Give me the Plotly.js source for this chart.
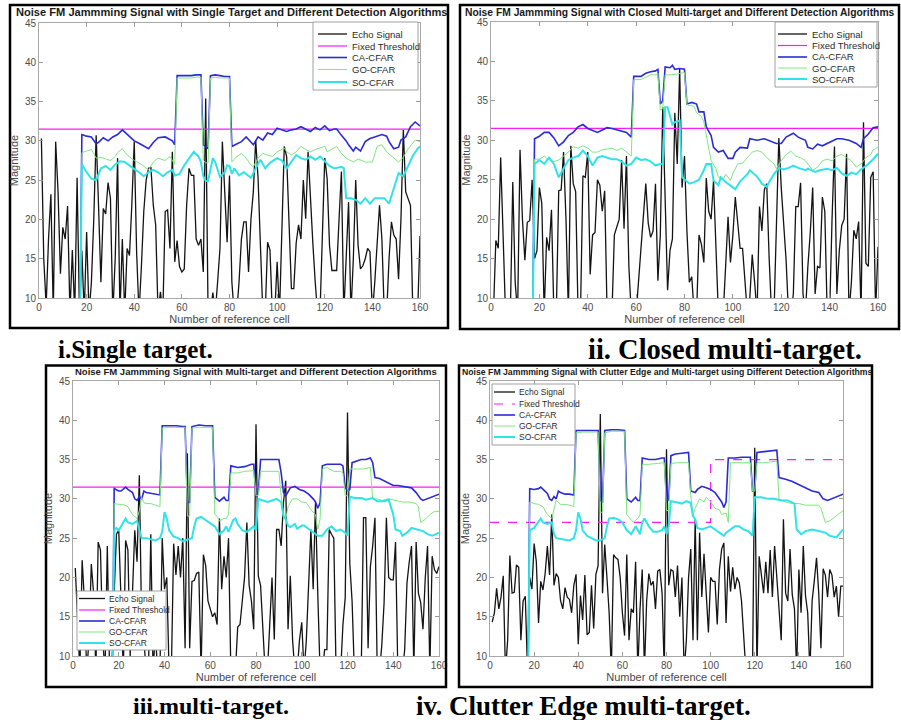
<!DOCTYPE html>
<html><head><meta charset="utf-8">
<script src="https://cdn.plot.ly/plotly-3.0.1.min.js"></script>
<style>html,body{margin:0;padding:0;background:#fff}#chart{width:901px;height:720px}</style>
</head><body><div id="chart"></div>
<script>
// ---------- DATA ----------
const xTicks = [0,20,40,60,80,100,120,140,160];
const yTicks = [10,15,20,25,30,35,40,45];
const seriesNames = ['Echo Signal','Fixed Threshold','CA-CFAR','GO-CFAR','SO-CFAR'];
const panelTitles = [
 'Noise FM Jammming Signal with Single Target and Different Detection Algorithms',
 'Noise FM Jammming Signal with Closed Multi-target and Different Detection Algorithms',
 'Noise FM Jammming Signal with Multi-target and Different Detection Algorithms',
 'Noise FM Jammming Signal with Clutter Edge and Multi-target using Different Detection Algorithms'];
const captions = ['i.Single target.','ii. Closed multi-target.','iii.multi-target.','iv. Clutter Edge multi-target.'];
const xTitle = 'Number of reference cell';
const yTitle = 'Magnitude';

// Echo signal, cells 1..160
const echo1 = [30.3,15,9,17.5,23.2,8,29.9,23.5,13.1,19, 17.5,21.7,8,16.1,8,25.3,8,16,8,18.4,
 8,12,20,30.7,21.8,12,21.4,20.7,24.7,22.7, 8,15,27.8,8,17.5,8,16.3,15.4,22,29.9,
 15.8,8,14,21,25,26.5,26.6,21.8,19.3,8, 10.8,8,21,21.2,16.3,28.6,14.6,17.3,14,13.3,
 13.7,21.8,26.5,25.6,25.6,17.5,16.7,17.5,13.3,35.4, 8,8,10.7,8,12,16.3,29.9,23.9,17.1,25.6,
 12,8,8,12,17.5,19.7,19.7,13.3,20,23.5, 30.1,25.2,17,8,8,17.1,16.1,8,8,14.6,
 8,18,29.3,28,20,11.2,11.2,17,19.3,17.5, 25,20.1,28.6,21.8,17,12,8,8,18,27.8,
 25.2,16.7,13.5,13.5,13.5,20,26.1,8,15,22.2, 8,15,25,16.7,13.7,14.1,15,16.3,15.9,8,
 12,17,21.8,17.5,8,8,15,19.7,18,17.5, 12.4,20,31.4,23.5,22.5,21.8,8,8,8,17.9];
const echo2 = [8,17.3,16.3,27.8,18,8,8,8,24.7,12, 8,28.8,20,14.8,19.6,19.8,25,15,16,24,
 22,8,17.7,16,21.2,8,8,23.6,23.7,28.5, 20,8,29.3,24.5,23.5,8,8,25.5,25.3,28.5,
 13,18,18.3,25,24.3,21,23.6,8,8,8, 18,19,20,27.5,18.8,28,14,8,10,8,
 12,16,20,24.5,19.5,17.7,18.5,24.5,12.2,18, 34.2,22,11,16,17.5,33.5,27,39.1,24,28,
 18.5,12,12.7,8,8,18,16.8,14.5,25.2,21, 20,24.9,18,8,8,8,14,20.3,14.5,18,
 22.8,19,16.3,16.3,12,8,10,15.5,12,8, 21.6,18.5,23.7,24.5,15,8,8,18,30.3,24,
 20,14.8,8,8,10.5,21.6,21.6,24.6,10.5,8, 14,18.3,24,10.5,14,13.8,22.8,21,8,8,
 20,29.2,10.5,16,19.2,20,28.3,8,12,18.6, 17.5,19.7,8,32.3,14.4,14,25.3,26,8,16.5];
const echo3 = [21.2,14,8,22.2,17,8,12,21.7,18,8, 24.5,23.5,12,8,24,8,8,18,25.5,26,
 15,8,24.7,23.5,10,19,26,22,33,14, 12,8,8,25.5,8,13,8,8,25,18.5,
 20,8,8,24.3,20.3,24,20,25,11,35.8, 11,19.5,19.6,20.5,20.7,8,22.9,21.5,17,16,
 15,15.5,14,27.5,18.5,22.7,20,25,8,8, 8,13.7,14,17,20,27,19,17,13.4,39.5,
 20.2,19,14,8,8,14,20,12.1,26.1,26.1, 24,29.5,32.3,13.4,20.2,12,8,8,12,14.3,
 8,12,19,26.1,18.5,29.5,18,8,8,10.8, 10.8,26.1,25.5,25,8,8,8,14,17.4,41,
 21.8,17,8,8,8,8,27.6,27.6,11,21.4, 24,27.6,8,8,11.4,16.8,27.6,20,19.7,19.7,
 24.5,8,8,8,10.8,19.3,22,24,8,24.5, 18,16.8,13.4,20,24,8,22.7,21,20.5,21.4];
const echo4 = [14.3,15.5,18.6,16,17.5,20.2,8,12,22.8,18, 18.1,21.6,21.3,12,17,17.6,8,20,18.5,24.3,
 22,14.2,19.5,18.4,20.5,24,20.3,28,19,20.5, 20,17,16,18.7,17.5,17.2,15.5,19,20.4,11.5,
 17.7,14.6,20.3,12.7,13,19,13.5,20.4,21.5,40.8, 18,24.2,20,15.5,8,22.9,22.5,22.3,20,15.5,
 12.6,22.9,12,16,15.5,22,8,16,21,8, 17,20.5,19,19.5,16,20.8,21,18,8,36.3,
 19,21,20.8,17.5,21.5,15,20,8,12,20, 23.6,12,27.4,12,25.7,17.5,23,17.5,13,20,
 19.5,19.5,14,21,23.6,24.4,14.2,22.7,18.2,21.3, 18.5,20,19.3,17,13,8,8,8,8,36.5,
 8,22.7,20.5,18,22,18,23.5,17.5,24,20, 16,12,27.4,18,17,23.6,17.8,16,8,21,
 15.5,24,17.7,15.5,8,17,19.6,22.5,18,11, 21.1,20.3,17.5,21,20.3,17.5,18.9,15,18.9,18.9];

// Fixed thresholds
const thrX = [0,160];          const thrY = [31.5,31.5];
const thrX4 = [0,100,100,160]; const thrY4 = [27,27,35,35];

// Panel i CFAR
const caX1=[17,18,20,22,24,25,27,29,31,33,35,37,40,42,44,46,48,50,53,56,57,58,60,62,64,66,68,69,70,71,72,74,76,78,80,81,83,85,87,89,90,92,94,96,98,100,102,104,106,108,110,112,114,116,118,120,122,124,125,127,129,130,132,133,135,137,139,141,144,146,147,149,151,152,154,156,158,160];
const caY1=[0,30.8,30.6,30.5,29.6,29.8,30.4,30.0,30.5,30.8,31.4,30.8,30.0,29.7,29.4,29.0,29.8,30.4,30.5,30.0,29.5,38.3,38.3,38.3,38.3,38.4,38.4,29.5,29.2,29.0,38.3,38.4,38.3,38.2,38.2,29.3,29.6,29.9,30.5,29.8,29.5,30.5,30.1,31.0,30.8,31.6,31.4,31.2,31.4,31.5,31.8,31.5,31.2,31.7,31.4,31.9,31.3,31.5,31.5,30.7,30.0,29.5,28.7,29.2,28.7,29.9,30.3,30.5,30.8,30.6,29.9,29.0,29.2,30.1,30.5,31.8,32.4,31.9];
const goX1=[17,18,20,22,24,26,28,30,32,33,35,37,40,43,46,48,50,53,55,57,58,60,62,64,66,68,69,70,71,72,74,76,78,80,81,83,85,87,89,90,92,94,96,98,100,103,104,106,108,110,112,114,116,118,120,121,123,125,127,129,132,134,137,140,142,144,146,149,151,153,155,158,160];
const goY1=[0,28.5,28.7,28.9,27.8,27.9,27.7,27.5,28.0,28.5,29.0,28.2,27.5,27.0,26.3,27.3,27.8,27.5,28.0,27.0,38.0,38.0,38.0,38.0,38.1,38.1,27.5,27.2,27.2,38.0,38.1,38.0,38.0,38.0,27.3,28.0,28.4,27.8,26.9,26.7,27.8,28.4,28.2,28.0,28.6,29.1,28.6,28.2,28.6,29.3,28.9,28.6,28.9,29.1,29.3,28.6,28.9,29.3,28.4,27.8,27.3,27.7,27.3,27.3,29.3,29.5,28.6,27.8,27.3,27.9,29.0,30.1,29.9];
const soX1=[17,18,20,22,24,26,28,30,32,34,36,38,40,42,44,46,48,50,52,54,56,57,59,61,63,65,67,68,69,70,71,72,73,74,76,78,79,80,81,82,84,86,88,89,91,93,95,97,100,102,104,106,108,110,112,114,116,118,120,122,124,127,128,129,131,133,135,137,139,141,143,145,147,149,151,153,155,157,159,160];
const soY1=[0,27.0,26.0,25.2,25.0,26.5,26.8,26.3,27.0,27.4,27.3,26.8,26.4,26.0,25.5,26.0,26.3,26.0,25.5,26.0,26.3,25.6,25.8,26.9,27.8,28.6,28.0,27.3,25.5,24.9,24.9,26.5,27.8,27.3,25.4,26.0,26.9,26.8,25.8,26.5,25.6,26.0,25.5,25.3,26.5,27.6,26.5,27.2,27.8,27.5,26.5,27.3,28.2,27.8,27.6,28.0,27.6,28.0,27.4,26.8,26.5,26.7,26.5,22.7,22.7,22.5,22.0,22.7,22.0,22.7,22.7,22.7,22.0,24.1,25.9,25.5,26.8,28.1,29.0,29.3];

// Panel ii CFAR
const caX2=[17,18,20,22,24,26,28,30,32,34,36,38,40,42,44,46,48,50,52,54,56,58,59,62,64,66,68,69,70,71,72,74,75,76,78,80,81,83,85,86,88,89,91,92,94,96,98,100,101,103,106,107,110,113,116,118,120,122,125,127,130,131,133,135,137,140,143,145,148,151,153,154,156,158,160];
const caY2=[0,30.2,30.5,31.0,31.0,30.3,29.3,29.8,30.6,31.0,31.7,32.0,31.5,31.2,31.0,31.3,31.6,31.5,31.3,31.2,31.0,30.4,38.1,38.1,38.5,38.7,38.8,39.0,34.6,35.0,39.3,39.2,39.5,39.0,39.1,39.0,34.6,34.8,34.6,33.6,33.6,31.7,30.6,29.1,28.5,28.7,27.7,27.7,28.5,29.1,29.0,30.2,30.0,30.2,29.8,29.6,29.6,30.4,30.9,30.4,30.0,29.1,28.9,29.5,29.3,29.8,30.2,30.2,30.0,29.6,29.1,30.2,30.8,31.6,31.7];
const goX2=[17,18,20,22,24,26,28,30,32,34,36,38,40,42,44,46,48,50,52,54,56,58,59,62,64,66,68,69,70,71,72,74,77,80,81,84,85,87,88,89,90,91,93,94,96,97,99,100,102,104,106,108,110,112,114,117,118,120,122,124,126,128,130,133,135,137,139,141,143,145,147,149,151,153,155,157,158,160];
const goY2=[0,27.6,27.6,28.0,27.5,27.3,27.5,28.0,28.5,29.2,29.0,29.3,29.0,28.5,28.5,28.8,28.9,29.0,28.7,29.0,28.5,28.0,37.7,37.7,38.0,38.3,38.3,38.5,33.8,34.0,38.3,38.3,38.4,38.6,34.5,34.3,33.5,33.0,32.3,30.4,29.0,27.4,26.4,25.3,25.0,25.7,24.9,25.8,27.0,27.1,27.8,28.5,28.7,28.5,27.8,27.0,26.4,27.4,28.2,28.6,28.0,27.8,27.4,26.2,26.6,27.4,27.6,27.4,28.0,28.2,27.8,27.4,26.6,27.0,27.8,28.2,28.8,29.1];
const soX2=[17,18,20,22,24,26,28,30,32,34,36,38,40,42,44,46,48,50,52,54,56,58,60,62,64,66,68,70,71,72,73,74,75,76,78,79,81,82,84,86,88,89,91,92,94,95,97,99,101,103,106,107,110,112,114,115,117,119,121,123,125,127,130,131,134,136,139,141,143,145,147,149,151,153,156,158,160];
const soY2=[0,27.0,27.5,27.0,27.8,27.0,25.3,26.5,27.5,27.8,28.0,28.7,28.0,26.8,27.8,28.0,27.8,27.6,27.6,27.3,26.8,27.0,27.8,27.5,27.6,27.3,26.8,27.0,27.0,34.2,34.2,33.0,32.0,32.3,32.5,25.3,24.8,24.5,24.7,25.0,26.2,27.0,27.0,24.9,24.3,25.3,24.7,24.3,23.8,24.8,25.7,26.2,25.4,24.5,24.1,24.7,25.7,26.5,26.3,26.5,26.8,26.5,26.2,26.4,26.0,26.2,26.4,26.2,26.5,25.8,25.5,25.9,25.7,26.3,27.0,27.6,28.3];

// Panel iii CFAR
const caX3=[17,18,20,21,23,24,26,27,28,29,30,31,32,34,36,38,39,42,45,48,49,50,51,52,55,58,61,62,64,66,67,68,69,72,75,78,79,80,81,82,84,86,88,90,91,92,93,95,97,99,101,103,105,106,107,108,109,111,113,115,117,118,119,120,121,122,124,126,128,130,131,132,134,136,138,140,142,144,146,148,150,152,153,155,157,160];
const caY3=[0,31.3,31.0,31.0,31.5,31.2,30.8,30.0,29.8,30.3,30.0,31.0,30.8,30.7,30.6,30.5,39.3,39.3,39.3,39.2,39.2,29.7,29.5,39.2,39.4,39.3,39.3,30.2,29.7,30.2,29.8,29.8,34.2,34.0,34.1,34.4,34.4,30.3,30.8,35.0,35.0,35.0,35.0,35.0,33.3,30.8,30.4,31.4,31.6,31.2,31.0,30.6,30.0,29.6,28.8,29.5,34.2,34.4,34.4,34.4,34.4,34.2,31.5,31.0,31.2,34.6,34.8,35.0,35.0,35.2,34.6,32.7,32.6,32.3,32.0,31.7,31.7,31.6,31.5,31.4,30.8,30.0,29.8,30.0,30.3,30.6];
const goX3=[17,18,20,22,24,26,28,29,30,31,32,34,36,38,39,42,45,49,50,51,52,55,58,61,62,63,64,66,67,68,69,72,75,78,79,80,81,82,85,88,90,91,92,93,94,96,98,100,102,104,106,107,108,109,111,114,117,118,119,120,121,124,127,130,131,133,135,138,141,144,147,150,151,152,154,156,158,160];
const goY3=[0,29.4,29.3,29.3,29.0,28.0,27.5,28.5,30.2,29.5,29.4,29.4,29.2,29.0,39.0,39.1,39.1,39.1,27.8,27.8,39.0,39.1,39.1,39.1,28.0,27.8,27.2,27.5,27.5,28.0,33.3,33.3,33.5,33.6,33.6,30.4,30.4,33.5,33.5,33.5,33.5,30.4,28.0,27.4,29.0,30.0,30.0,29.6,29.5,28.6,28.0,26.1,27.4,33.8,34.0,33.5,33.5,33.3,30.4,30.4,33.8,33.8,33.8,34.0,30.0,30.0,29.8,30.0,29.8,29.6,29.6,29.4,29.0,27.0,27.4,28.0,28.4,28.4];
const soX3=[17,18,19,20,22,23,24,26,28,29,30,32,34,36,38,39,40,41,42,44,46,48,50,52,53,54,56,58,60,62,64,66,67,68,70,71,72,74,76,78,79,80,81,83,85,87,89,91,92,93,94,95,97,98,100,101,103,104,106,107,109,111,113,115,117,119,120,121,123,126,128,131,133,136,138,140,141,143,144,146,148,150,153,155,157,160];
const soY3=[0,26.0,26.3,26.0,27.0,27.5,27.0,26.8,27.2,26.0,25.0,25.0,24.8,24.7,25.0,25.8,28.3,27.5,26.0,25.2,25.0,24.6,24.8,25.0,26.5,27.5,27.7,27.3,27.0,26.5,25.5,26.0,26.5,25.8,27.3,27.5,26.8,26.0,25.8,26.2,26.5,26.0,30.0,29.8,29.6,29.8,30.0,29.6,27.8,27.4,26.6,26.4,26.8,26.2,26.6,26.6,26.2,26.0,25.5,25.3,25.3,26.1,26.5,25.9,26.1,25.7,25.3,30.3,30.1,30.1,29.9,30.1,29.7,29.7,29.9,28.0,26.1,25.9,25.3,25.7,26.3,26.1,25.9,25.5,25.3,25.7];

// Panel iv CFAR
const caX4=[17,18,20,22,23,24,26,27,28,29,30,31,32,34,36,38,39,42,45,49,50,51,52,55,58,61,62,64,66,67,68,69,72,75,78,79,80,81,82,84,87,90,91,93,94,96,98,100,102,104,105,106,107,108,111,114,116,118,119,120,121,124,127,130,131,134,137,140,143,146,149,151,153,155,158,160];
const caY4=[0,31.3,31.2,31.3,31.5,31.2,30.7,30.0,29.8,30.3,30.0,31.0,30.8,30.6,30.6,30.5,38.7,38.7,38.7,38.7,29.8,29.5,38.7,38.8,38.8,38.7,30.0,29.6,30.2,29.8,29.8,35.2,35.0,35.0,35.2,35.2,30.0,29.8,35.5,35.7,35.8,35.9,31.0,30.8,31.2,31.6,31.4,31.2,30.8,30.0,29.6,28.9,29.6,35.2,35.2,35.3,35.3,35.3,31.0,31.0,35.9,36.0,36.1,36.2,32.7,32.5,32.2,31.8,31.4,31.0,30.8,30.0,29.8,30.0,30.4,30.6];
const goX4=[17,18,20,22,24,26,28,29,30,32,34,36,38,39,42,45,49,50,51,52,55,58,61,62,64,65,66,67,68,69,72,75,78,79,80,81,82,85,88,90,91,92,93,95,97,98,100,102,104,105,107,108,109,112,115,118,119,120,121,124,127,130,131,134,137,140,143,146,149,150,152,154,157,160];
const goY4=[0,29.6,29.4,29.3,29.0,28.0,27.5,28.5,29.8,29.3,29.3,29.2,29.0,38.4,38.5,38.5,38.5,28.3,28.3,38.4,38.6,38.6,38.6,28.0,27.3,27.0,27.3,27.5,28.0,34.4,34.4,34.5,34.6,34.6,28.5,28.5,34.5,34.6,34.6,34.6,30.5,27.8,28.8,30.0,29.6,30.2,29.6,28.8,28.6,28.0,28.2,27.0,34.6,34.6,34.6,34.6,31.0,31.0,34.6,34.6,34.7,34.8,30.0,29.6,29.4,29.4,29.2,29.2,29.2,28.8,27.0,27.2,27.8,28.5];
const soX4=[17,18,20,22,23,24,26,28,29,30,32,34,36,38,39,40,41,42,44,46,48,50,52,53,54,56,58,60,62,64,65,66,67,68,69,70,72,74,76,78,79,80,81,82,84,87,89,91,92,93,94,96,98,100,102,104,106,107,109,111,113,115,117,119,120,123,126,129,132,135,138,139,141,143,146,149,152,154,157,160];
const soY4=[0,26.0,26.3,27.0,27.5,27.0,26.8,27.0,25.5,25.0,24.9,24.8,24.7,25.0,26.0,28.3,27.5,26.0,25.3,25.0,24.7,24.7,25.0,26.5,27.5,27.6,27.4,27.0,26.0,25.5,26.0,26.5,26.0,25.5,27.0,27.5,26.5,25.8,25.8,26.0,26.5,25.5,26.5,29.7,29.6,29.4,29.7,29.5,27.8,27.4,26.3,26.1,26.3,26.5,26.1,25.7,25.3,25.7,26.1,26.5,26.5,26.1,25.9,25.3,30.2,30.2,30.0,30.0,29.8,29.8,29.4,26.1,25.5,25.9,26.1,25.9,25.7,25.3,25.1,26.1];

// ---------- STYLE ----------
const C = {echo:'#141414', thr:'#ff1aff', ca:'#2a2ad6', go:'#80e680', so:'#2fe3e8'};
const W = 901, H = 720;
const PX = x => x / W, PY = y => 1 - y / H;
const cells = echo1.map((_, i) => i + 1);

const panels = [
 {s:'',  xd:[39,420], yd:[23,298], echo:echo1, ca:[caX1,caY1], go:[goX1,goY1], so:[soX1,soY1], thr:[thrX,thrY], dash:'solid',
  box:[10,448,5,328], title:{x:231,y:12,size:11.1,anchor:'center'}, cap:{x:135,y:349,size:25},
  leg:{x0:313,x1:418,y0:22,y1:90,l0:318,l1:347,t:350,rows:[34,46,57.5,69.5,82],fs:9.5}},
 {s:'2', xd:[491,878], yd:[22,298], echo:echo2, ca:[caX2,caY2], go:[goX2,goY2], so:[soX2,soY2], thr:[thrX,thrY], dash:'solid',
  box:[460,899,5,329], title:{x:463,y:12,size:10.3,anchor:'left'}, cap:{x:725,y:349,size:28.5},
  leg:{x0:775,x1:877,y0:22,y1:87,l0:778,l1:807,t:810,rows:[34,45.5,57,68,79],fs:9.5}},
 {s:'3', xd:[73,439], yd:[381,656], echo:echo3, ca:[caX3,caY3], go:[goX3,goY3], so:[soX3,soY3], thr:[thrX,thrY], dash:'solid',
  box:[46,446,365.5,687], title:{x:256,y:371.5,size:9.5,anchor:'center'},  cap:{x:211,y:706,size:24},
  leg:{x0:77,x1:166,y0:591,y1:650,l0:79,l1:105,t:107,rows:[598.5,610,621,632,643],fs:8.5}},
 {s:'4', xd:[490,843], yd:[381,656], echo:echo4, ca:[caX4,caY4], go:[goX4,goY4], so:[soX4,soY4], thr:[thrX4,thrY4], dash:'dash',
  box:[459,872,365.5,687], title:{x:667,y:371.5,size:8.7,anchor:'center'}, cap:{x:583,y:706,size:27},
  leg:{x0:492,x1:575,y0:384,y1:445,l0:494,l1:515,t:517,rows:[392,404,415,426,437],fs:8.5}}
];

const traces = [];
const shapes = [];
const annotations = [];
const layout = {
  width: W, height: H, margin:{l:0,r:0,t:0,b:0},
  paper_bgcolor:'#ffffff', plot_bgcolor:'#ffffff', showlegend:false,
  font:{family:'Liberation Sans, Arial, sans-serif', color:'#333'}
};

const axisCommon = {
  ticks:'inside', ticklen:4, tickwidth:1, tickcolor:'#9a9a9a',
  showline:true, linecolor:'#a8a8a8', linewidth:1, mirror:'ticks',
  showgrid:false, zeroline:false, fixedrange:true,
  tickfont:{size:10, color:'#4d4d4d', family:'Liberation Sans, Arial, sans-serif'}
};

panels.forEach((p, i) => {
  const xa = 'x' + p.s, ya = 'y' + p.s;
  const lineStyles = [
    {x:cells, y:p.echo, c:C.echo, w:1.3, d:'solid'},
    {x:p.thr[0], y:p.thr[1], c:C.thr, w:1.2, d:p.dash},
    {x:p.ca[0], y:p.ca[1], c:C.ca, w:1.6, d:'solid'},
    {x:p.go[0], y:p.go[1], c:C.go, w:1.0, d:'solid'},
    {x:p.so[0], y:p.so[1], c:C.so, w:2.0, d:'solid'}
  ];
  lineStyles.forEach((ls, k) => {
    traces.push({type:'scatter', mode:'lines', x:ls.x, y:ls.y, name:seriesNames[k],
      xaxis:xa, yaxis:ya, line:{color:ls.c, width:ls.w, dash:ls.d}, hoverinfo:'skip'});
  });
  layout['xaxis' + p.s] = Object.assign({}, axisCommon, {
    domain:[PX(p.xd[0]), PX(p.xd[1])], anchor:ya, range:[0,160], tickvals:xTicks,
    title:{text:xTitle, font:{size:11, color:'#4a4a4a'}, standoff:2}
  });
  layout['yaxis' + p.s] = Object.assign({}, axisCommon, {
    domain:[PY(p.yd[1]), PY(p.yd[0])], anchor:xa, range:[10,45], tickvals:yTicks,
    title:{text:yTitle, font:{size:11, color:'#4a4a4a'}, standoff:4}
  });
  // panel frame
  shapes.push({type:'rect', xref:'paper', yref:'paper', x0:PX(p.box[0]), x1:PX(p.box[1]), y0:PY(p.box[3]), y1:PY(p.box[2]),
    line:{color:'#000', width:2.5}, fillcolor:'rgba(0,0,0,0)'});
  // title
  annotations.push({xref:'paper', yref:'paper', x:PX(p.title.x), y:PY(p.title.y), xanchor:p.title.anchor, yanchor:'middle',
    text:'<b>' + panelTitles[i] + '</b>', showarrow:false, font:{size:p.title.size, color:'#1a1a1a'}});
  // caption
  annotations.push({xref:'paper', yref:'paper', x:PX(p.cap.x), y:PY(p.cap.y), xanchor:'center', yanchor:'middle',
    text:'<b>' + captions[i] + '</b>', showarrow:false,
    font:{size:p.cap.size, color:'#000', family:'Liberation Serif, Times New Roman, serif'}});
  // legend box
  const L = p.leg;
  shapes.push({type:'rect', xref:'paper', yref:'paper', x0:PX(L.x0), x1:PX(L.x1), y0:PY(L.y1), y1:PY(L.y0),
    line:{color:'#a0a0a0', width:1}, fillcolor:'#ffffff'});
  lineStyles.forEach((ls, k) => {
    shapes.push({type:'line', xref:'paper', yref:'paper', x0:PX(L.l0), x1:PX(L.l1), y0:PY(L.rows[k]), y1:PY(L.rows[k]),
      line:{color:ls.c, width:ls.w, dash:ls.d}});
    annotations.push({xref:'paper', yref:'paper', x:PX(L.t), y:PY(L.rows[k]), xanchor:'left', yanchor:'middle',
      text:seriesNames[k], showarrow:false, font:{size:L.fs, color:'#2b2b2b'}});
  });
});
layout.shapes = shapes;
layout.annotations = annotations;

Plotly.newPlot('chart', traces, layout, {displayModeBar:false, staticPlot:true});
</script>
</body></html>
